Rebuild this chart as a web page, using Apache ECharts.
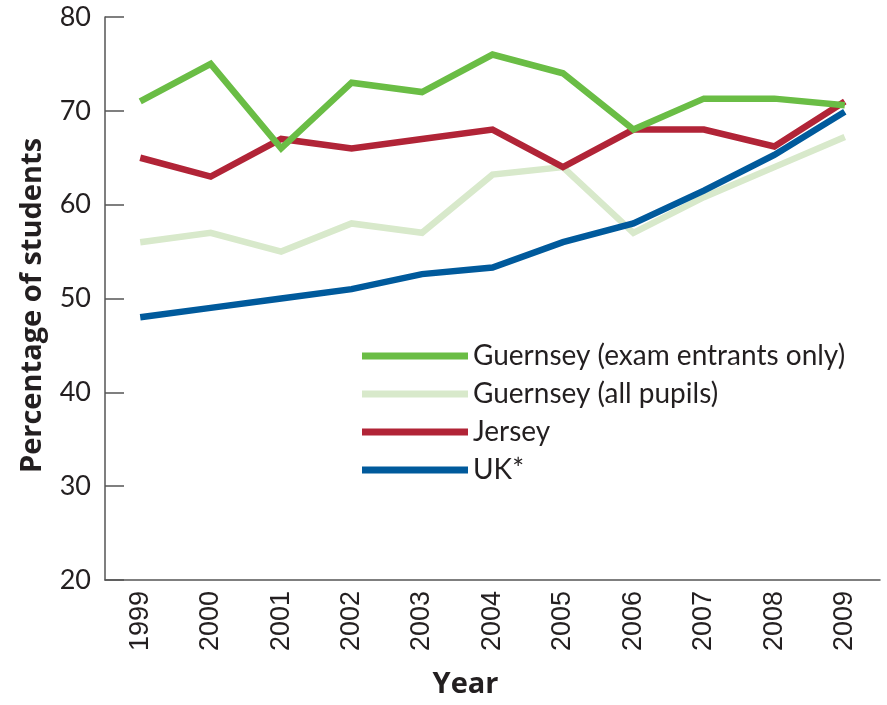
<!DOCTYPE html>
<html>
<head>
<meta charset="utf-8">
<script src="https://cdn.jsdelivr.net/npm/echarts@6/dist/echarts.min.js"></script>
<style>
  html, body { margin: 0; padding: 0; background: #fff; }
  #chart { width: 887px; height: 705px; }
</style>
</head>
<body>
<div id="chart"></div>
<script>
// data
const years = ["1999", "2000", "2001", "2002", "2003", "2004", "2005", "2006", "2007", "2008", "2009"];
const guernseyExam = [71, 75, 66, 73, 72, 76, 74, 68, 71.3, 71.3, 70.6];
const guernseyAll = [56, 57, 55, 58, 57, 63.2, 64, 57, 60.8, 64, 67.2];
const jersey = [65, 63, 67, 66, 67, 68, 64, 68, 68, 66.2, 71];
const uk = [48, 49, 50, 51, 52.6, 53.3, 56, 58, 61.5, 65.3, 69.9];
const yTicks = [20, 30, 40, 50, 60, 70, 80];

const legendNames = ["Guernsey (exam entrants only)", "Guernsey (all pupils)", "Jersey", "UK*"];

const textColor = "#231f20";
const axisColor = "#555555";

function lineSeries(name, data, color) {
  return {
    name: name,
    type: "line",
    data: data,
    symbol: "none",
    lineStyle: { color: color, width: 6.5, join: "miter" },
    itemStyle: { color: color },
  };
}

let myChart = echarts.init(document.getElementById("chart"));
myChart.setOption({
  animation: false,
  grid: { left: 105, right: 7, top: 17, bottom: 125 },
  legend: {
    orient: "vertical",
    left: 362,
    top: 341,
    padding: 0,
    data: legendNames,
    icon: "rect",
    itemWidth: 106,
    itemHeight: 7,
    itemGap: 8,
    textStyle: { fontFamily: "Lato", fontSize: 28, lineHeight: 30, color: textColor },
  },
  xAxis: {
    type: "category",
    data: years,
    boundaryGap: true,
    name: "Year",
    nameLocation: "middle",
    nameGap: 90,
    nameTextStyle: { fontFamily: "Open Sans", fontWeight: "bold", fontSize: 29, color: textColor, padding: [0, 54, 0, 0] },
    axisLine: { lineStyle: { color: axisColor, width: 1.5 } },
    axisTick: { inside: true, length: 14, lineStyle: { color: axisColor, width: 1.5 } },
    axisLabel: {
      rotate: 90,
      margin: 11,
      fontFamily: "Liberation Sans",
      fontSize: 27,
      color: textColor,
    },
  },
  yAxis: {
    type: "value",
    min: yTicks[0],
    max: yTicks[yTicks.length - 1],
    interval: 10,
    name: "Percentage of students",
    nameLocation: "middle",
    nameGap: 58,
    nameTextStyle: { fontFamily: "Open Sans", fontWeight: "bold", fontSize: 29, color: textColor, padding: [0, 14, 0, 0] },
    splitLine: { show: false },
    axisLine: { show: true, lineStyle: { color: axisColor, width: 1.5 } },
    axisTick: { show: true, inside: true, length: 19, lineStyle: { color: axisColor, width: 1.5 } },
    axisLabel: { margin: 14, fontFamily: "Lato", fontSize: 27, color: textColor },
  },
  series: [
    lineSeries("Guernsey (all pupils)", guernseyAll, "#d8e9cb"),
    lineSeries("Jersey", jersey, "#b12437"),
    lineSeries("UK*", uk, "#005a9c"),
    lineSeries("Guernsey (exam entrants only)", guernseyExam, "#6abd45"),
  ],
});
</script>
</body>
</html>
